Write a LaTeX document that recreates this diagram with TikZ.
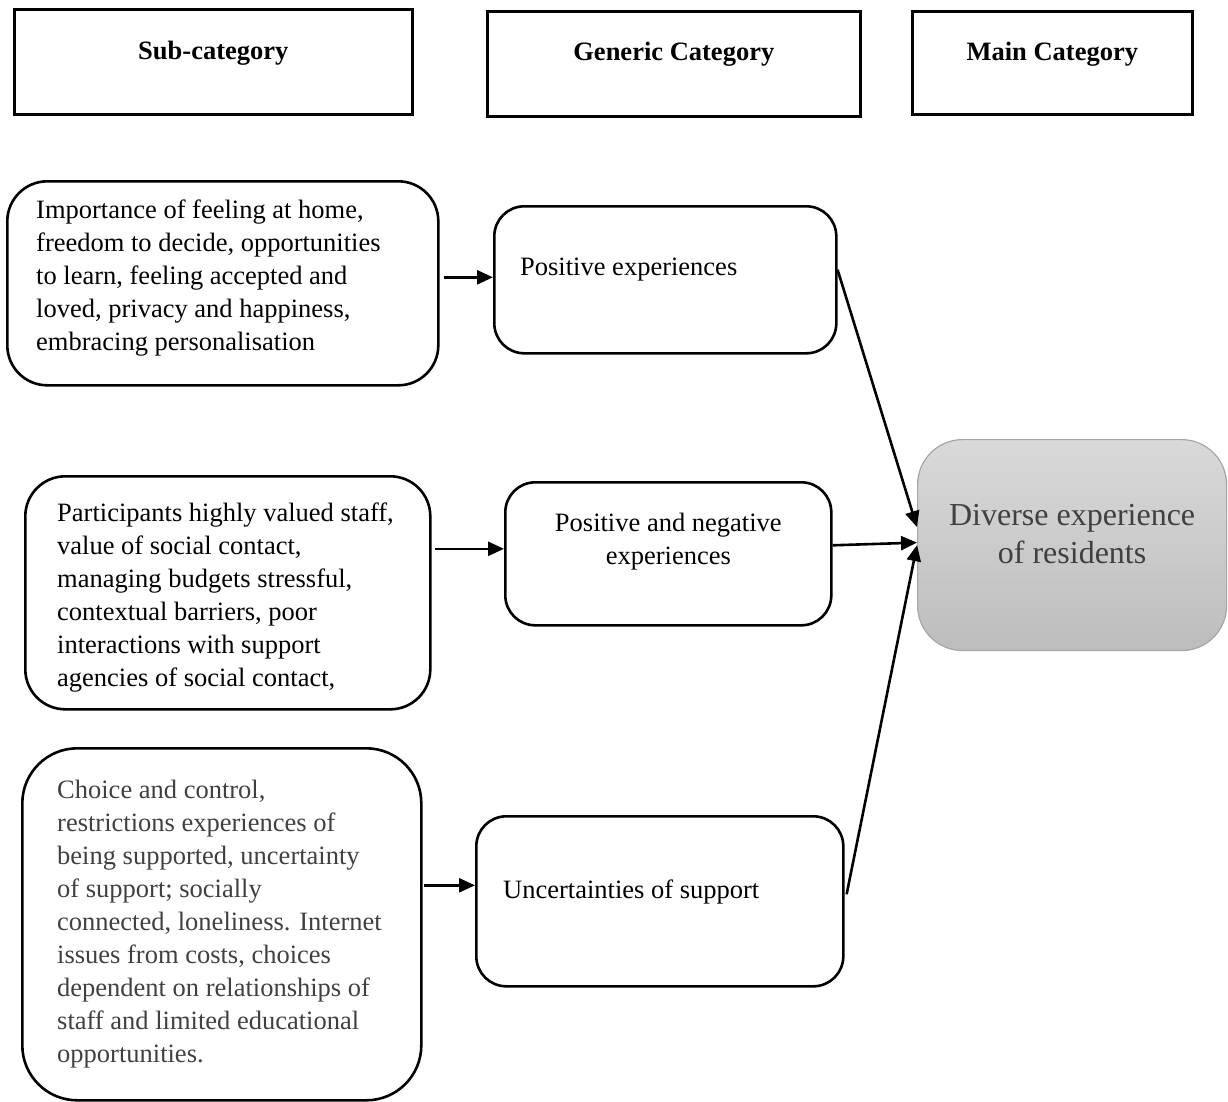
\documentclass[tikz,border=0pt]{standalone}
\usepackage{fontspec}
\setmainfont{Liberation Serif}
\usetikzlibrary{arrows.meta}
\definecolor{softtext}{HTML}{404040}
\definecolor{greytop}{HTML}{D9D9D9}
\definecolor{greybot}{HTML}{BDBDBD}
\definecolor{greyedge}{HTML}{A6A6A6}
\begin{document}
\begin{tikzpicture}[x=1pt,y=-1pt,
  header/.style={draw, line width=2.6pt, anchor=north west, inner sep=0pt},
  headtext/.style={font=\fontsize{26.5}{30}\selectfont\bfseries, inner sep=0pt},
  roundbox/.style={draw, line width=2.6pt, rounded corners=#1, anchor=north west, inner sep=0pt},
  bodytext/.style={font=\fontsize{26.5}{33}\selectfont, align=left, inner sep=0pt, anchor=west},
  mainbox/.style={draw=greyedge, line width=1.2pt, rounded corners=45pt, top color=greytop,
    bottom color=greybot, anchor=north west, inner sep=0pt},
  link/.style={line width=2.6pt, -{Triangle[length=16pt,width=14pt]}}]
  \useasboundingbox (0,0) rectangle (1228,1101);

  % column headers
  \node[header, minimum width=398pt, minimum height=105pt] (H1) at (13,8) {};
  \node[header, minimum width=373pt, minimum height=105pt] (H2) at (486,10) {};
  \node[header, minimum width=280pt, minimum height=103pt] (H3) at (911,10) {};
  \node[headtext] (H1t) at ([yshift=9pt]H1.center) {Sub-category};
  \node[headtext] (H2t) at ([yshift=10pt]H2.center) {Generic Category};
  \node[headtext] (H3t) at ([yshift=9pt]H3.center) {Main Category};

  % sub-categories
  \node[roundbox=40pt, minimum width=431pt, minimum height=204pt] (A) at (6,180) {};
  \node[bodytext] (At) at ([xshift=30pt,yshift=5pt]A.west)
    {Importance of feeling at home,\\ freedom to decide, opportunities\\ to learn, feeling accepted and\\
     loved, privacy and happiness,\\ embracing personalisation};

  \node[roundbox=40pt, minimum width=405pt, minimum height=233pt] (B) at (24,475) {};
  \node[bodytext] (Bt) at ([xshift=33pt,yshift=-5pt]B.west)
    {Participants highly valued staff,\\ value of social contact,\\ managing budgets stressful,\\
     contextual barriers, poor\\ interactions with support\\ agencies of social contact,};

  \node[roundbox=55pt, minimum width=399pt, minimum height=352pt] (C) at (21,747) {};
  \node[bodytext, text=softtext] (Ct) at ([xshift=36pt]C.west)
    {Choice and control,\\ restrictions experiences of\\ being supported, uncertainty\\ of support; socially\\
     connected, loneliness. Internet\\ issues from costs, choices\\ dependent on relationships of\\
     staff and limited educational\\ opportunities.};

  % generic categories
  \node[roundbox=30pt, minimum width=342pt, minimum height=147pt] (P) at (493,205) {};
  \node[bodytext] (Pt) at ([xshift=27pt,yshift=10pt]P.west) {Positive experiences};

  \node[roundbox=30pt, minimum width=326pt, minimum height=143pt] (N) at (504,481) {};
  \node[bodytext, align=center, anchor=center] (Nt) at ([yshift=12pt]N.center)
    {Positive and negative\\ experiences};

  \node[roundbox=30pt, minimum width=367pt, minimum height=170pt] (U) at (475,815) {};
  \node[bodytext] (Ut) at ([xshift=28pt,yshift=9pt]U.west) {Uncertainties of support};

  % main category
  \node[mainbox, minimum width=309pt, minimum height=211pt] (G) at (917,439) {};
  \node[font=\fontsize{32}{38}\selectfont, text=softtext, align=center, inner sep=0pt] (Gt)
    at ([yshift=11pt]G.center) {Diverse experience\\ of residents};

  % connectors
  \draw[link] ([xshift=4pt,yshift=2.5pt]P.west -| A.east) -- ([yshift=2.5pt]P.west);
  \draw[link] ([xshift=3pt,yshift=5pt]N.west -| B.east) -- ([yshift=5pt]N.west);
  \draw[link] ([xshift=1pt,yshift=16pt]U.west -| C.east) -- ([yshift=16pt]U.west);

  \draw[link] ([yshift=10pt]P.east) -- ([yshift=18pt]G.west);
  \draw[link] ([yshift=8.5pt]N.east) -- ([yshift=2.5pt]G.west);
  \draw[link] ([xshift=2pt,yshift=7pt]U.east) -- (G.west);
\end{tikzpicture}
\end{document}
